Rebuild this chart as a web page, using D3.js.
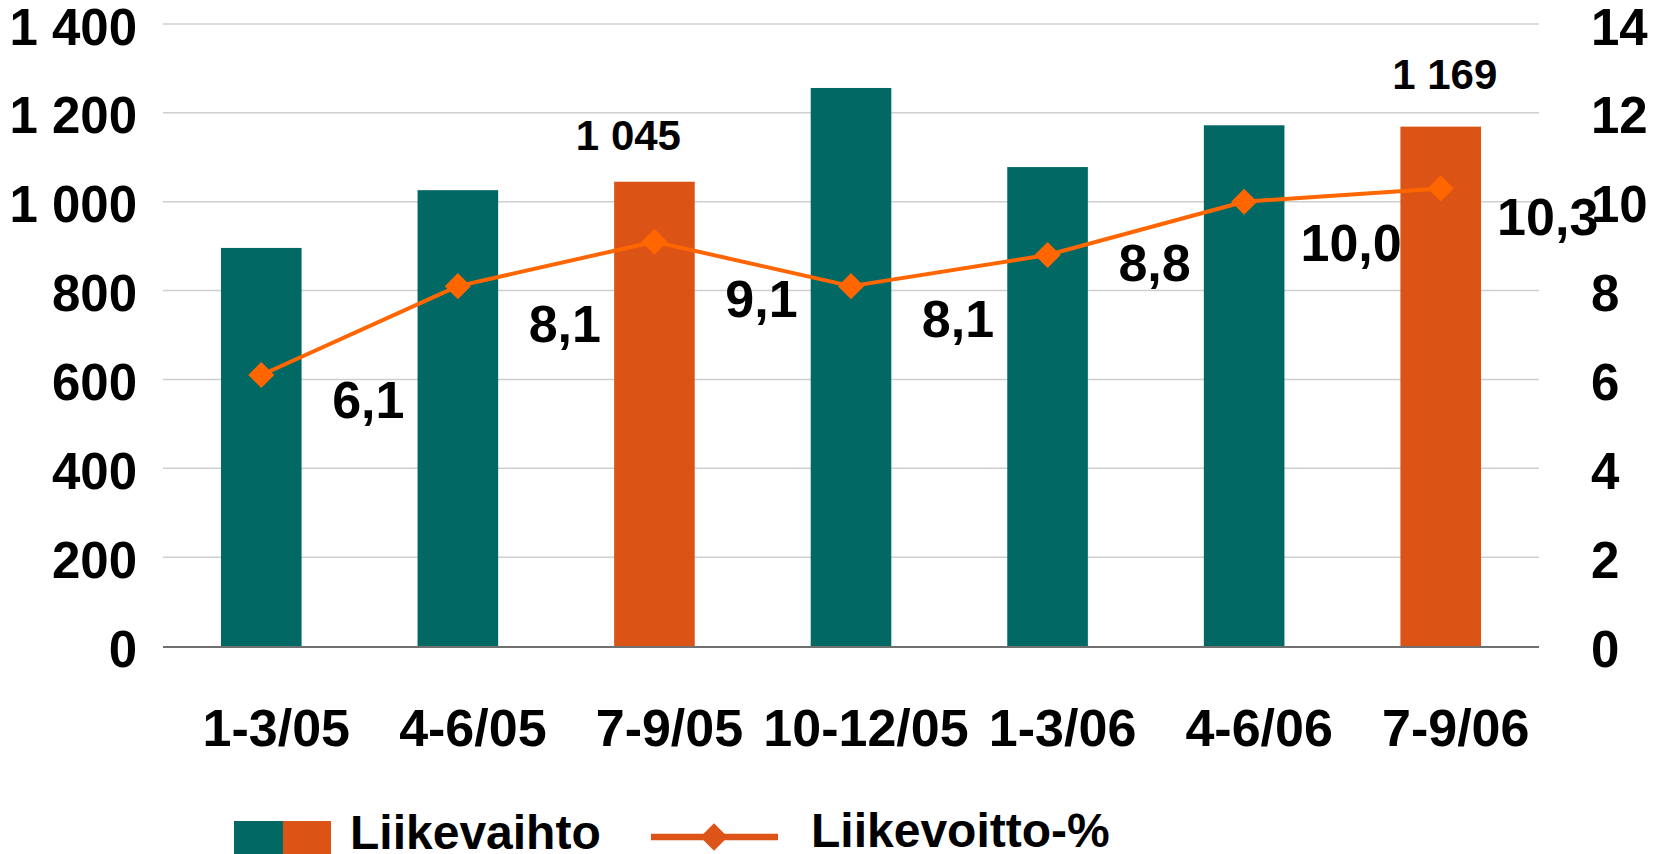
<!DOCTYPE html>
<html>
<head>
<meta charset="utf-8">
<script src="https://cdn.jsdelivr.net/npm/d3@7/dist/d3.min.js"></script>
<style>
  html, body { margin: 0; padding: 0; background: #ffffff; }
  svg { display: block; font-family: "Liberation Sans", Arial, Helvetica, sans-serif; font-weight: bold; }
</style>
</head>
<body>
<svg id="chart" width="1664" height="854"></svg>
<script>
// ---- data ----
const categories = ["1-3/05", "4-6/05", "7-9/05", "10-12/05", "1-3/06", "4-6/06", "7-9/06"];
const liikevaihto = [896, 1026, 1045, 1256, 1078, 1172, 1169];
const barGroup = ["base", "base", "current", "base", "base", "base", "current"];
const liikevoittoPct = [6.1, 8.1, 9.1, 8.1, 8.8, 10.0, 10.3];
const leftTicks = [0, 200, 400, 600, 800, 1000, 1200, 1400];
const rightTicks = [0, 2, 4, 6, 8, 10, 12, 14];
const seriesNames = ["Liikevaihto", "Liikevoitto-%"];

// ---- layout / style (not data) ----
const W = 1664, H = 854;
const plot = { left: 163, right: 1539, top: 24, bottom: 646 };
const colors = { base: "#016864", current: "#DC5316", line: "#FF6600", legendLine: "#DC5418", grid: "#cfcfcf", axis: "#404040" };
const lineLabelDy = [43, 56, 75, 51, 26, 59, 47];   // manual label nudges (baseline below point)
const lineLabelDx = 107;
const barLabelNudge = { 2: { dx: -26, dy: -32 }, 6: { dx: 4, dy: -38 } };

const fi = d3.formatLocale({ decimal: ",", thousands: "\u00a0", grouping: [3], currency: ["", " €"] });
const fmtInt = fi.format(",d");
const fmtPct = fi.format(".1f");

const svg = d3.select("#chart");

const x = d3.scaleBand().domain(categories).range([plot.left, plot.right]).paddingInner(0.59).paddingOuter(0.295);
const yL = d3.scaleLinear().domain([0, 1400]).range([plot.bottom, plot.top]);
const yR = d3.scaleLinear().domain([0, 14]).range([plot.bottom, plot.top]);

// gridlines
svg.append("g").selectAll("line").data(leftTicks.filter(d => d > 0)).join("line")
  .attr("x1", plot.left).attr("x2", plot.right)
  .attr("y1", d => yL(d)).attr("y2", d => yL(d))
  .attr("stroke", colors.grid).attr("stroke-width", 1.5);

// left axis
const leftAxis = d3.axisLeft(yL).tickValues(leftTicks).tickSize(0).tickPadding(0).tickFormat(d => fmtInt(d).replace(/\u00a0/g, " "));
const gL = svg.append("g").attr("transform", `translate(137,0)`).call(leftAxis);
gL.select(".domain").remove();
gL.selectAll("text").attr("font-size", 51).attr("fill", "#000").attr("dy", null)
  .attr("dominant-baseline", "alphabetic").attr("y", 20).attr("text-anchor", "end")
  .style("font-family", "'Liberation Sans', Arial, sans-serif").style("font-weight", "bold");

// right axis
const rightAxis = d3.axisRight(yR).tickValues(rightTicks).tickSize(0).tickPadding(0);
const gR = svg.append("g").attr("transform", `translate(1591,0)`).call(rightAxis);
gR.select(".domain").remove();
gR.selectAll("text").attr("font-size", 51).attr("fill", "#000").attr("dy", null)
  .attr("y", 20).attr("text-anchor", "start")
  .style("font-family", "'Liberation Sans', Arial, sans-serif").style("font-weight", "bold");

// bars
svg.append("g").selectAll("rect").data(categories).join("rect")
  .attr("x", d => x(d)).attr("width", x.bandwidth())
  .attr("y", (d, i) => yL(liikevaihto[i]))
  .attr("height", (d, i) => yL(0) - yL(liikevaihto[i]))
  .attr("fill", (d, i) => colors[barGroup[i]]);

// baseline
svg.append("line").attr("x1", plot.left).attr("x2", plot.right)
  .attr("y1", yL(0) + 1).attr("y2", yL(0) + 1)
  .attr("stroke", colors.axis).attr("stroke-width", 1.6);

// x axis
const xAxis = d3.axisBottom(x).tickSize(0).tickPadding(0);
const gX = svg.append("g").attr("transform", `translate(15,${yL(0)})`).call(xAxis);
gX.select(".domain").remove();
gX.selectAll("text").attr("font-size", 52).attr("fill", "#000").attr("dy", null).attr("y", 100)
  .style("font-family", "'Liberation Sans', Arial, sans-serif").style("font-weight", "bold");

// bar value labels (current-quarter bars)
svg.append("g").selectAll("text").data(categories.map((c, i) => i).filter(i => barGroup[i] === "current")).join("text")
  .attr("x", i => x(categories[i]) + x.bandwidth() / 2 + barLabelNudge[i].dx)
  .attr("y", i => yL(liikevaihto[i]) + barLabelNudge[i].dy)
  .attr("text-anchor", "middle").attr("font-size", 42).attr("fill", "#000")
  .text(i => fmtInt(liikevaihto[i]).replace(/\u00a0/g, " "));

// line
const cx = (d, i) => x(categories[i]) + x.bandwidth() / 2;
const line = d3.line().x((d, i) => cx(d, i)).y(d => yR(d));
svg.append("path").datum(liikevoittoPct).attr("d", line)
  .attr("fill", "none").attr("stroke", colors.line).attr("stroke-width", 4).attr("stroke-linejoin", "round");

const diamond = d3.symbol().type(d3.symbolSquare).size(340);
svg.append("g").selectAll("path").data(liikevoittoPct).join("path")
  .attr("d", diamond)
  .attr("transform", (d, i) => `translate(${cx(d, i)},${yR(d)}) rotate(45)`)
  .attr("fill", colors.line);

// line labels
svg.append("g").selectAll("text").data(liikevoittoPct).join("text")
  .attr("x", (d, i) => cx(d, i) + lineLabelDx)
  .attr("y", (d, i) => yR(d) + lineLabelDy[i])
  .attr("text-anchor", "middle").attr("font-size", 52).attr("fill", "#000")
  .text(d => fmtPct(d));

// legend
const lg = svg.append("g");
lg.append("rect").attr("x", 234).attr("y", 821).attr("width", 49).attr("height", 33).attr("fill", colors.base);
lg.append("rect").attr("x", 283).attr("y", 821).attr("width", 48).attr("height", 33).attr("fill", colors.current);
lg.append("text").attr("x", 350).attr("y", 849).attr("font-size", 48).attr("fill", "#000").text(seriesNames[0]);
lg.append("line").attr("x1", 651).attr("x2", 778).attr("y1", 837).attr("y2", 837)
  .attr("stroke", colors.legendLine).attr("stroke-width", 6.5);
lg.append("path").attr("d", d3.symbol().type(d3.symbolSquare).size(380))
  .attr("transform", "translate(714,837) rotate(45) scale(1,1)")
  .attr("fill", colors.legendLine);
lg.append("text").attr("x", 811).attr("y", 847).attr("font-size", 48).attr("fill", "#000").text(seriesNames[1]);
</script>
</body>
</html>
